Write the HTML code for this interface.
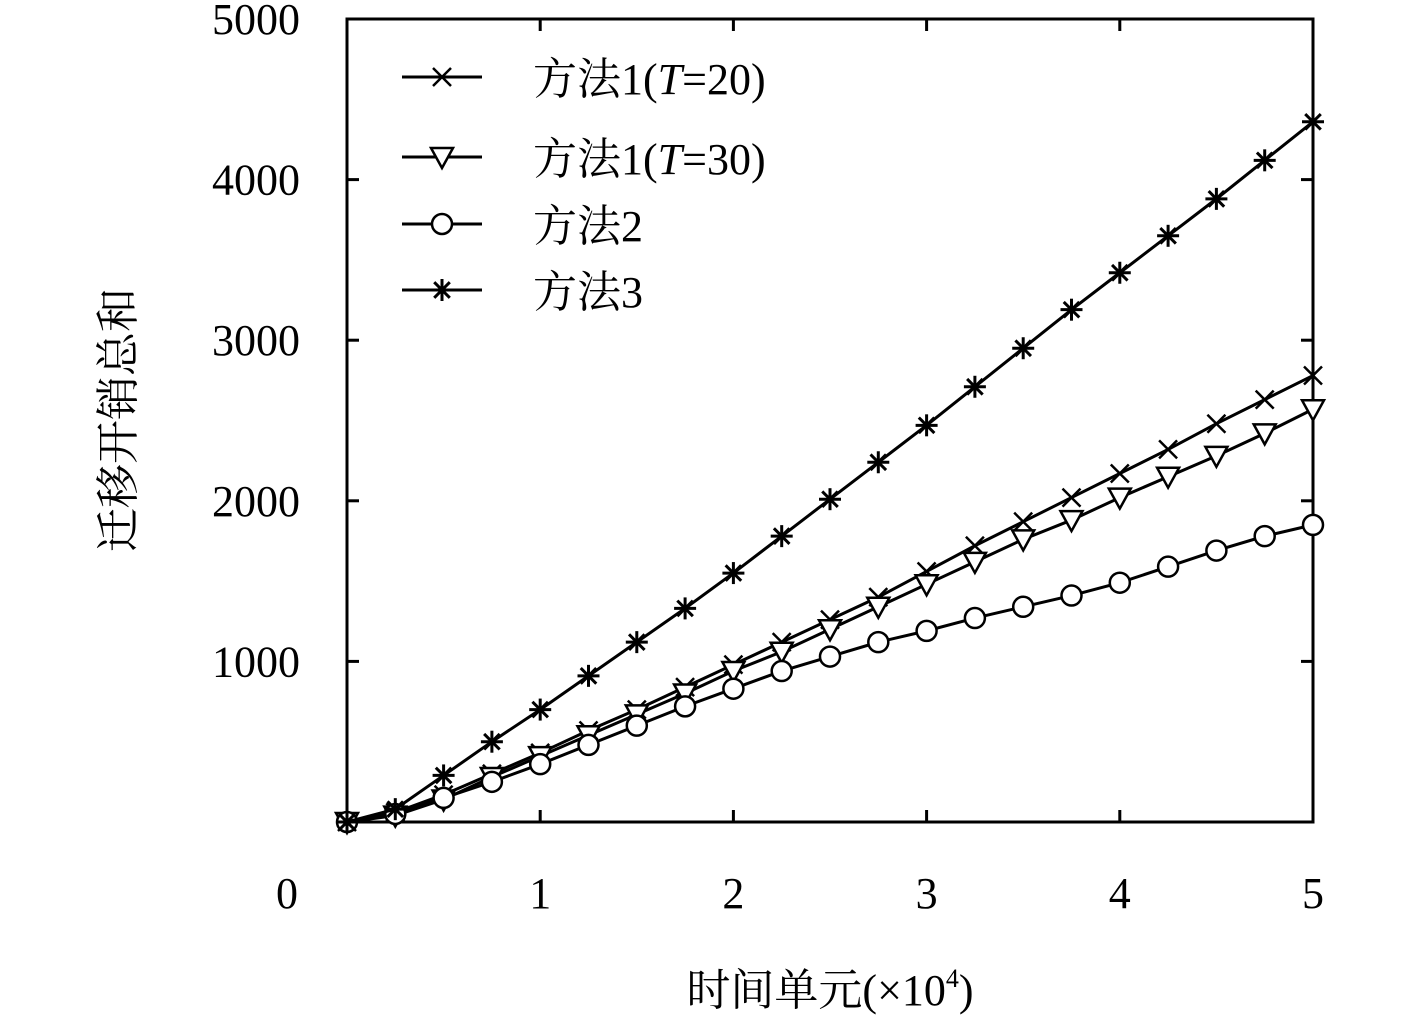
<!DOCTYPE html>
<html><head><meta charset="utf-8"><style>
body{margin:0;background:#fff}
svg text{font-family:"Liberation Serif","Noto Serif CJK SC",serif;fill:#000}
</style></head><body>
<svg id="chart" width="1417" height="1028" xmlns="http://www.w3.org/2000/svg">
<g id="axes"></g>
<g id="series"></g>
<g id="legend"></g>
<text transform="translate(133,420) rotate(-90)" text-anchor="middle" font-size="44">迁移开销总和</text>
<text x="830" y="1005" text-anchor="middle" font-size="44">时间单元(×10<tspan font-size="26" dy="-18">4</tspan><tspan dy="18">)</tspan></text>
</svg>
<script>
const xValues=[0,0.25,0.5,0.75,1,1.25,1.5,1.75,2,2.25,2.5,2.75,3,3.25,3.5,3.75,4,4.25,4.5,4.75,5];
const m1t20=[0,60,170,300,430,570,700,840,980,1120,1260,1400,1560,1720,1870,2020,2170,2320,2480,2630,2780];
const m1t30=[0,40,140,280,410,540,670,800,940,1060,1200,1340,1480,1620,1760,1880,2020,2150,2280,2420,2570];
const m2=[0,50,150,250,360,480,600,720,830,940,1030,1120,1190,1270,1340,1410,1490,1590,1690,1780,1850];
const m3=[0,80,290,500,700,910,1120,1330,1550,1780,2010,2240,2470,2710,2950,3190,3420,3650,3880,4120,4360];
const xTicks=[1,2,3,4,5];
const yTicks=[1000,2000,3000,4000,5000];
const legendLabels=["方法1(T=20)","方法1(T=30)","方法2","方法3"];
const L=347,R=1313,T=19,B=822;
const sx=v=>L+(v/5)*(R-L), sy=v=>B-(v/5000)*(B-T);
const NS="http://www.w3.org/2000/svg";
function mk(tag,attrs,parent){const e=document.createElementNS(NS,tag);for(const k in attrs)e.setAttribute(k,attrs[k]);parent.appendChild(e);return e;}
const axes=document.getElementById('axes'),ser=document.getElementById('series'),leg=document.getElementById('legend');
const frame=mk('rect',{x:L,y:T,width:R-L,height:B-T,fill:'none',stroke:'#000','stroke-width':3},axes);


xTicks.forEach(t=>{const x=sx(t);
 if(t<5){mk('line',{x1:x,x2:x,y1:B,y2:B-12,stroke:'#000','stroke-width':3},axes);mk('line',{x1:x,x2:x,y1:T,y2:T+12,stroke:'#000','stroke-width':3},axes);}
 const tx=mk('text',{x:x,y:908,'text-anchor':'middle','font-size':44},axes);tx.textContent=t;
 
 });
const z=mk('text',{x:287,y:908,'text-anchor':'middle','font-size':44},axes);z.textContent='0';


yTicks.forEach(t=>{const y=sy(t);
 if(t<5000){mk('line',{x1:L,x2:L+12,y1:y,y2:y,stroke:'#000','stroke-width':3},axes);mk('line',{x1:R,x2:R-12,y1:y,y2:y,stroke:'#000','stroke-width':3},axes);}
 const tx=mk('text',{x:300,y:y+15,'text-anchor':'end','font-size':44},axes);tx.textContent=t;
 
 });
function marker(type,x,y,g){const s={stroke:'#000','stroke-width':2.5,fill:'none'};
 if(type==='x'){mk('line',{x1:x-9,y1:y-9,x2:x+9,y2:y+9,...s},g);mk('line',{x1:x-9,y1:y+9,x2:x+9,y2:y-9,...s},g);}
 else if(type==='tri'){mk('polygon',{points:`${x-11},${y-9} ${x+11},${y-9} ${x},${y+11}`,...s,fill:'#fff'},g);}
 else if(type==='o'){mk('circle',{cx:x,cy:y,r:10,...s,fill:'#fff'},g);}
 else {for(let a=0;a<180;a+=45){const r=a*Math.PI/180;mk('line',{x1:x-11*Math.cos(r),y1:y-11*Math.sin(r),x2:x+11*Math.cos(r),y2:y+11*Math.sin(r),...s,'stroke-width':3},g);}}}
const seriesList=[[m1t20,'x','series-method1-t20'],[m1t30,'tri','series-method1-t30'],[m2,'o','series-method2'],[m3,'star','series-method3']];
seriesList.forEach(([d,type,name],i)=>{const g=mk('g',{},ser);
 
 
 mk('polyline',{points:d.map((v,j)=>sx(xValues[j])+','+sy(v)).join(' '),fill:'none',stroke:'#000','stroke-width':3},g);
 d.forEach((v,j)=>marker(type,sx(xValues[j]),sy(v),g));
 const ly=[77,157,224,290][i];
 const lg=mk('g',{},leg);
 
 
 mk('line',{x1:402,x2:482,y1:ly,y2:ly,stroke:'#000','stroke-width':3},lg);
 marker(type,442,ly,lg);
 const tx=mk('text',{x:533,y:ly+17,'font-size':44},lg);
 const lab=legendLabels[i];
 if(lab.includes('T=')){const m=lab.match(/^(.*\()T(=\d+\))$/);tx.appendChild(document.createTextNode(m[1]));const it=mk('tspan',{'font-style':'italic'},tx);it.textContent='T';tx.appendChild(document.createTextNode(m[2]));}
 else tx.textContent=lab;});
</script>
</body></html>
